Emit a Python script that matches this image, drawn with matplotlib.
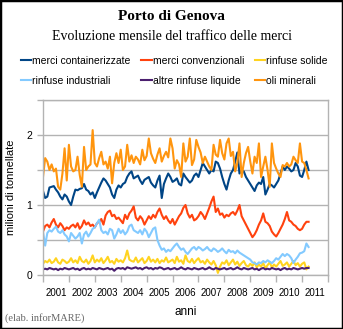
import numpy as np
import matplotlib.pyplot as plt
from matplotlib.patches import Rectangle

# tonnellate mensili (milioni), gen 2000 - apr 2010
containerizzate = [
    1.20, 1.10, 1.12, 1.25, 1.26, 1.27, 1.22, 1.18, 1.12, 1.08, 1.15, 1.12,
    1.05, 1.00, 1.12, 1.22, 1.21, 1.23, 1.24, 1.30, 1.22, 1.20, 1.15, 1.18,
    1.10, 1.18, 1.25, 1.32, 1.38, 1.35, 1.30, 1.25, 1.15, 1.10, 1.22, 1.28,
    1.25, 1.30, 1.32, 1.40, 1.45, 1.48, 1.38, 1.40, 1.42, 1.35, 1.30, 1.36,
    1.38, 1.40, 1.32, 1.28, 1.25, 1.35, 1.42, 1.10, 1.30, 1.38, 1.45, 1.40,
    1.33, 1.35, 1.38, 1.30, 1.28, 1.45, 1.40, 1.36, 1.32, 1.35, 1.42, 1.45,
    1.40, 1.50, 1.60, 1.55, 1.50, 1.45, 1.50, 1.48, 1.62, 1.60, 1.52, 1.40,
    1.30, 1.22, 1.35, 1.45, 1.50, 1.62, 1.75, 1.45, 1.50, 1.48, 1.40, 1.35,
    1.30, 1.25, 1.20, 1.28, 1.32, 1.30, 1.40, 1.15, 1.22, 1.30, 1.28, 1.25,
    1.30, 1.35, 1.45, 1.55, 1.50, 1.55, 1.52, 1.48, 1.50, 1.60, 1.55, 1.42,
    1.40, 1.50, 1.62, 1.50]

convenzionali = [
    0.62, 0.70, 0.72, 0.68, 0.75, 0.80, 0.72, 0.68, 0.74, 0.70, 0.64, 0.68,
    0.66, 0.70, 0.72, 0.68, 0.74, 0.66, 0.70, 0.78, 0.72, 0.75, 0.70, 0.72,
    0.68, 0.74, 0.76, 0.80, 0.72, 0.85, 0.90, 0.92, 0.84, 0.86, 0.80, 0.82,
    0.78, 0.74, 0.86, 0.80, 0.88, 0.92, 0.98, 0.82, 0.78, 0.84, 0.80, 0.72,
    0.78, 0.84, 0.80, 0.86, 0.82, 0.90, 0.95, 0.86, 0.80, 0.84, 0.78, 0.74,
    0.80, 0.72, 0.78, 0.84, 0.88, 0.96, 1.00, 0.88, 0.82, 0.86, 0.78, 0.80,
    0.84, 0.90, 0.86, 0.80, 0.88, 0.96, 1.05, 1.12, 0.90, 0.95, 0.86, 0.88,
    0.82, 0.86, 0.84, 0.88, 0.90, 0.86, 0.92, 1.00, 0.84, 0.78, 0.72, 0.66,
    0.60, 0.54, 0.58, 0.64, 0.72, 0.78, 0.88, 0.76, 0.74, 0.70, 0.62, 0.58,
    0.55, 0.60, 0.66, 0.72, 0.80, 0.90, 0.78, 0.76, 0.72, 0.70, 0.66, 0.64,
    0.66, 0.72, 0.76, 0.76]

solide = [
    0.16, 0.20, 0.18, 0.22, 0.17, 0.19, 0.24, 0.18, 0.16, 0.22, 0.20, 0.17,
    0.19, 0.24, 0.18, 0.21, 0.17, 0.26, 0.20, 0.18, 0.22, 0.16, 0.20, 0.28,
    0.18, 0.22, 0.19, 0.24, 0.17, 0.21, 0.26, 0.18, 0.20, 0.16, 0.23, 0.19,
    0.21, 0.18, 0.24, 0.35, 0.22, 0.20, 0.19, 0.25, 0.18, 0.21, 0.24, 0.17,
    0.20, 0.26, 0.19, 0.22, 0.18, 0.23, 0.17, 0.21, 0.19, 0.25, 0.18, 0.20,
    0.22, 0.17, 0.26, 0.19, 0.21, 0.16, 0.28, 0.20, 0.18, 0.23, 0.17, 0.21,
    0.24, 0.18, 0.20, 0.16, 0.22, 0.18, 0.15, 0.20, 0.14, 0.03, 0.12, 0.18,
    0.16, 0.21, 0.14, 0.18, 0.22, 0.15, 0.19, 0.13, 0.17, 0.20, 0.14, 0.12,
    0.16, 0.13, 0.18, 0.11, 0.15, 0.12, 0.17, 0.10, 0.14, 0.18, 0.11, 0.15,
    0.12, 0.16, 0.20, 0.13, 0.15, 0.18, 0.12, 0.16, 0.20, 0.14, 0.17, 0.12,
    0.16, 0.18, 0.08, 0.12]

industriali = [
    0.62, 0.42, 0.60, 0.64, 0.62, 0.66, 0.69, 0.62, 0.60, 0.64, 0.58, 0.55,
    0.48, 0.60, 0.56, 0.52, 0.55, 0.60, 0.45, 0.58, 0.62, 0.55, 0.60, 0.66,
    0.68, 0.74, 0.79, 0.64, 0.60, 0.62, 0.58, 0.66, 0.64, 0.52, 0.58, 0.66,
    0.60, 0.64, 0.58, 0.62, 0.70, 0.72, 0.64, 0.62, 0.60, 0.64, 0.58, 0.66,
    0.62, 0.54, 0.60, 0.66, 0.68, 0.50, 0.42, 0.36, 0.38, 0.33, 0.36, 0.34,
    0.38, 0.42, 0.45, 0.40, 0.36, 0.38, 0.33, 0.30, 0.34, 0.38, 0.40, 0.36,
    0.40, 0.38, 0.35, 0.37, 0.40, 0.36, 0.34, 0.38, 0.36, 0.33, 0.35, 0.38,
    0.34, 0.31, 0.36, 0.33, 0.34, 0.31, 0.35, 0.32, 0.30, 0.28, 0.26, 0.24,
    0.22, 0.18, 0.17, 0.15, 0.18, 0.17, 0.20, 0.18, 0.21, 0.19, 0.17, 0.20,
    0.24, 0.22, 0.26, 0.30, 0.27, 0.30, 0.28, 0.24, 0.17, 0.22, 0.26, 0.31,
    0.32, 0.34, 0.45, 0.40]

liquide = [
    0.08, 0.09, 0.08, 0.10, 0.09, 0.08, 0.09, 0.07, 0.09, 0.08, 0.10, 0.09,
    0.08, 0.09, 0.10, 0.08, 0.09, 0.07, 0.09, 0.10, 0.08, 0.09, 0.08, 0.10,
    0.09, 0.08, 0.10, 0.09, 0.08, 0.09, 0.10, 0.08, 0.09, 0.06, 0.09, 0.10,
    0.09, 0.10, 0.08, 0.11, 0.10, 0.09, 0.10, 0.11, 0.09, 0.10, 0.08, 0.10,
    0.11, 0.09, 0.10, 0.08, 0.10, 0.09, 0.11, 0.10, 0.08, 0.09, 0.10, 0.08,
    0.09, 0.10, 0.08, 0.09, 0.11, 0.09, 0.08, 0.10, 0.09, 0.08, 0.10, 0.09,
    0.08, 0.09, 0.10, 0.08, 0.09, 0.11, 0.09, 0.08, 0.10, 0.09, 0.08, 0.09,
    0.10, 0.08, 0.09, 0.10, 0.08, 0.09, 0.11, 0.09, 0.08, 0.10, 0.09, 0.08,
    0.09, 0.10, 0.08, 0.09, 0.07, 0.09, 0.10, 0.08, 0.09, 0.08, 0.10, 0.09,
    0.08, 0.09, 0.07, 0.09, 0.10, 0.08, 0.09, 0.08, 0.10, 0.09, 0.08, 0.09,
    0.10, 0.09, 0.10, 0.10]

oli = [
    1.40, 1.67, 1.62, 1.50, 1.58, 1.48, 1.52, 1.26, 1.22, 1.45, 1.81, 1.35,
    1.86, 1.55, 1.48, 1.50, 1.69, 1.43, 1.26, 1.83, 1.50, 1.55, 1.58, 2.07,
    1.60, 1.55, 1.67, 1.76, 1.58, 1.62, 1.52, 1.69, 1.31, 1.60, 1.74, 1.60,
    1.79, 1.50, 1.55, 1.86, 1.62, 1.71, 1.60, 1.69, 1.65, 1.58, 1.79, 1.64,
    1.70, 1.95, 1.74, 1.66, 1.60, 1.72, 1.81, 1.62, 1.70, 1.76, 1.68, 1.95,
    1.81, 1.52, 1.64, 1.58, 1.40, 1.88, 1.62, 1.69, 1.95, 1.57, 1.65, 1.93,
    1.83, 1.75, 1.60, 1.69, 1.62, 1.55, 1.50, 1.86, 1.72, 1.69, 1.93, 1.74,
    1.65, 1.88, 1.95, 1.70, 1.76, 1.48, 1.60, 1.88, 1.40, 1.60, 1.74, 1.83,
    1.62, 1.45, 1.69, 1.60, 1.88, 1.40, 1.55, 1.69, 1.50, 1.26, 1.88, 1.60,
    1.52, 1.45, 1.40, 1.57, 1.55, 1.60, 1.55, 1.58, 1.69, 1.64, 1.60, 1.88,
    1.62, 1.60, 1.50, 1.38]

serie = ['merci containerizzate', 'merci convenzionali', 'rinfuse solide',
         'rinfuse industriali', 'altre rinfuse liquide', 'oli minerali']
colori = ['#004586', '#ff420e', '#ffd320', '#83caff', '#4b1f6f', '#ff950e']
anni = [str(a) for a in range(2001, 2012)]

sans = 'Liberation Sans'
serif = 'Liberation Serif'

fig = plt.figure(figsize=(3.43, 3.29), dpi=100)
ax = fig.add_axes([43/343, 54/329, 285/343, 175/329])

dati = [containerizzate, convenzionali, solide, industriali, liquide, oli]
linee = []
for nome, col, y in zip(serie, colori, dati):
    x = np.arange(len(y))
    l, = ax.plot(x, y, color=col, lw=1.5, label=nome, solid_joinstyle='round')
    linee.append(l)

ax.set_xlim(0, 132)
ax.set_ylim(0, 2.5)
ax.set_xticks(np.arange(0, 133, 12))
ax.set_xticklabels([])
ax.set_xticks(np.arange(6, 132, 12), minor=True)
ax.set_xticklabels(anni, minor=True, fontfamily=sans, fontsize=7)
ax.tick_params(axis='x', which='major', length=5, color='#b3b3b3', width=1)
ax.tick_params(axis='x', which='minor', length=0, pad=9)

ax.set_yticks(np.arange(0, 2.51, 0.5))
ax.set_yticklabels(['0', '', '1', '', '2', ''], fontfamily=sans, fontsize=7.5)
ax.tick_params(axis='y', length=4, color='#b3b3b3', width=1, pad=4)
ax.grid(axis='y', color='#b3b3b3', lw=1)

for s in ax.spines.values():
    s.set_color('#b3b3b3')
    s.set_linewidth(1)

ax.set_ylabel('milioni di tonnellate', fontfamily=sans, fontsize=8, labelpad=7)
ax.set_xlabel('anni', fontfamily=sans, fontsize=8.5, labelpad=6)

fig.text(0.5, 1 - 17/329, 'Porto di Genova', ha='center', va='center',
         fontfamily=serif, fontweight='bold', fontsize=11)
fig.text(0.5, 1 - 37/329, 'Evoluzione mensile del traffico delle merci',
         ha='center', va='center', fontfamily=serif, fontsize=10)
fig.text(5/343, 1 - 318/329, '(elab. inforMARE)', ha='left', va='center',
         fontfamily=serif, fontsize=7.5, color='#666666')

# legenda su due righe, tre colonne
ordine = [0, 3, 1, 4, 2, 5]
fig.legend([linee[i] for i in ordine], [serie[i] for i in ordine],
           loc='upper left', bbox_to_anchor=(21/343, 1 - 56/329), ncol=3,
           frameon=False, prop={'family': sans, 'size': 7.5},
           handlelength=1.0, handletextpad=0.1, columnspacing=1.0,
           labelspacing=0.95, borderpad=0, borderaxespad=0)

fig.patches.append(Rectangle((0, 0), 1, 1, transform=fig.transFigure,
                             fill=False, edgecolor='black', lw=2.5))

fig.savefig('out.png', dpi=100)
